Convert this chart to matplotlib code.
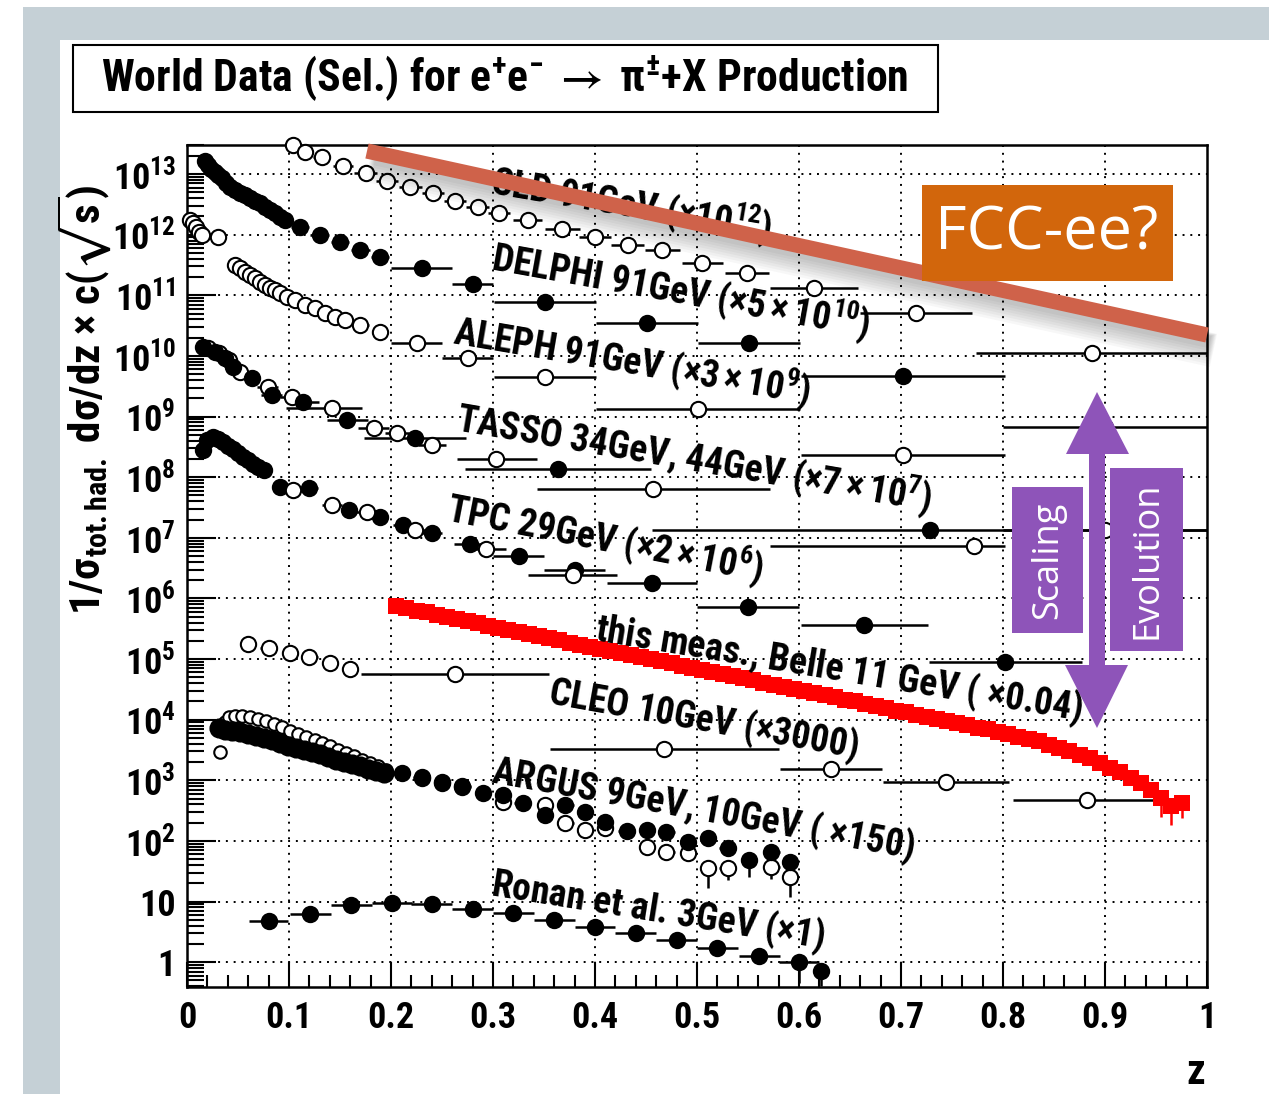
import matplotlib
matplotlib.use('Agg')
import matplotlib.pyplot as plt
import numpy as np
from matplotlib.patches import Rectangle, Polygon
from matplotlib.lines import Line2D
from matplotlib.ticker import FixedLocator, FuncFormatter, NullFormatter
import matplotlib.transforms as mtrans

FONT = 'Roboto Condensed'
plt.rcParams['font.family'] = [FONT, 'Liberation Sans', 'DejaVu Sans']
plt.rcParams['font.weight'] = 'bold'
plt.rcParams['mathtext.fontset'] = 'custom'
plt.rcParams['mathtext.rm'] = FONT + ':bold'
plt.rcParams['mathtext.it'] = FONT + ':bold:italic'
plt.rcParams['mathtext.bf'] = FONT + ':bold'
plt.rcParams['mathtext.default'] = 'rm'
plt.rcParams['mathtext.fallback'] = 'stixsans'

# ---------------- data (log10 of plotted, scaled values) ----------------
sld_z = [0.104,0.116,0.132,0.153,0.175,0.196,0.219,0.241,0.263,0.285,0.306,0.334,0.368,0.400,0.432,0.466,0.505,0.549,0.615,0.715,0.887]
sld_lg = [13.48,13.37,13.28,13.14,13.02,12.89,12.79,12.69,12.56,12.46,12.36,12.24,12.10,11.96,11.83,11.75,11.53,11.37,11.12,10.71,10.05]
sld_dz = [0.006,0.006,0.008,0.010,0.011,0.011,0.011,0.011,0.011,0.011,0.011,0.014,0.017,0.016,0.016,0.017,0.020,0.022,0.043,0.055,0.113]

delphi_z = [0.018,0.021,0.024,0.027,0.030,0.034,0.038,0.042,0.047,0.052,0.057,0.062,0.067,0.072,0.076,0.081,0.086,0.091,0.096,
            0.111,0.130,0.150,0.170,0.189,0.230,0.280,0.351,0.451,0.551,0.702,0.900]
delphi_lg = [13.21,13.15,13.09,13.04,12.98,12.93,12.86,12.79,12.74,12.69,12.66,12.60,12.56,12.52,12.46,12.41,12.35,12.30,12.24,
             12.13,12.00,11.88,11.75,11.63,11.45,11.19,10.89,10.54,10.21,9.67,8.83]
delphi_dz = [0.002]*19 + [0.009,0.009,0.009,0.009,0.009,0.030,0.020,0.050,0.050,0.050,0.100,0.100]

aleph_z = [0.003,0.006,0.009,0.012,0.015,0.030,0.047,0.052,0.057,0.062,0.067,0.072,0.076,0.081,0.086,0.091,0.098,0.106,0.116,0.125,
           0.135,0.145,0.155,0.170,0.189,0.225,0.275,0.351,0.501,0.702,0.900]
aleph_lg = [12.25,12.20,12.12,12.05,12.00,11.96,11.50,11.45,11.39,11.34,11.29,11.22,11.17,11.12,11.09,11.04,10.97,10.92,10.84,10.79,
            10.71,10.64,10.59,10.51,10.40,10.21,9.97,9.65,9.13,8.37,7.13]
aleph_dz = [0.002]*5 + [0.008] + [0.003]*10 + [0.005]*6 + [0.008]*3 + [0.025,0.025,0.050,0.100,0.100,0.100]

tasso_f_z = [0.016,0.027,0.037,0.045,0.064,0.083,0.114,0.157,0.224,0.364,0.728]
tasso_f_lg = [10.15,10.07,9.97,9.82,9.64,9.36,9.24,8.94,8.65,8.14,7.13]
tasso_f_dz = [0.003,0.003,0.004,0.005,0.008,0.010,0.015,0.020,0.050,0.091,0.272]

tasso_o_z = [0.021,0.031,0.041,0.052,0.079,0.103,0.142,0.183,0.206,0.240,0.303,0.457,0.772]
tasso_o_lg = [10.13,10.05,9.93,9.74,9.49,9.32,9.14,8.81,8.73,8.53,8.30,7.81,6.86]
tasso_o_dzl = [0.003,0.004,0.005,0.006,0.010,0.012,0.045,0.015,0.012,0.014,0.038,0.114,0.200]
tasso_o_dzh = [0.003,0.004,0.005,0.006,0.010,0.012,0.030,0.015,0.012,0.014,0.040,0.115,0.030]

tpc_f_z = [0.016,0.020,0.025,0.030,0.035,0.040,0.045,0.050,0.055,0.060,0.065,0.070,0.075,
           0.091,0.120,0.159,0.189,0.212,0.240,0.277,0.325,0.380,0.456,0.550,0.664,0.802]
tpc_f_lg = [8.45,8.62,8.66,8.63,8.58,8.52,8.46,8.40,8.34,8.28,8.22,8.17,8.12,
            7.84,7.82,7.46,7.34,7.21,7.08,6.90,6.70,6.47,6.25,5.86,5.56,4.95]
tpc_f_dz = [0.002]*13 + [0.006,0.008,0.008,0.008,0.010,0.010,0.015,0.025,0.030,0.044,0.050,0.062,0.075]

tpc_o_z = [0.104,0.142,0.176,0.224,0.293,0.378]
tpc_o_lg = [7.79,7.54,7.43,7.13,6.82,6.39]
tpc_o_dz = [0.006,0.010,0.010,0.010,0.020,0.044]

belle_z = [0.205,0.215,0.225,0.235,0.245,0.255,0.265,0.275,0.285,0.295,0.305,0.315,0.325,0.335,0.345,0.355,0.365,0.375,0.385,0.395,
           0.405,0.415,0.425,0.435,0.445,0.455,0.465,0.475,0.485,0.495,0.505,0.515,0.525,0.535,0.545,0.555,0.565,0.575,0.585,0.595,
           0.605,0.615,0.625,0.635,0.645,0.655,0.665,0.675,0.685,0.695,0.705,0.715,0.725,0.735,0.745,0.755,0.765,0.775,0.785,0.795,
           0.805,0.815,0.825,0.835,0.845,0.855,0.865,0.875,0.885,0.895,0.905,0.915,0.925,0.935,0.945,0.955,0.965,0.975]
belle_lg = [5.87,5.84,5.80,5.77,5.73,5.70,5.66,5.62,5.59,5.55,5.52,5.48,5.45,5.41,5.38,5.34,5.31,5.27,5.24,5.20,
            5.17,5.13,5.10,5.07,5.03,5.00,4.96,4.93,4.89,4.86,4.82,4.79,4.75,4.72,4.68,4.65,4.61,4.58,4.54,4.51,
            4.47,4.44,4.40,4.37,4.33,4.30,4.26,4.23,4.19,4.15,4.12,4.08,4.05,4.01,3.98,3.94,3.91,3.87,3.84,3.80,
            3.77,3.72,3.68,3.64,3.59,3.54,3.48,3.42,3.36,3.29,3.21,3.13,3.04,2.95,2.84,2.70,2.58,2.63]
belle_lowerr = [0.30, 0.32, 0.25]   # last three points, decades

cleo_z = [0.060,0.080,0.101,0.120,0.140,0.160,0.263,0.468,0.631,0.744,0.882]
cleo_lg = [5.25,5.18,5.10,5.03,4.93,4.83,4.75,3.52,3.19,2.97,2.67]
cleo_dz = [0.008,0.008,0.008,0.008,0.008,0.008,0.092,0.112,0.050,0.062,0.072]

argus_od_z = [0.032,0.037,0.041,0.047,0.054,0.062,0.070,0.077,0.085,0.093,0.101,0.109,0.117,0.125,0.132,0.140,0.148,0.156,0.164,0.172,0.179,0.187,0.195]
argus_od_lg = [3.47,3.96,4.04,4.06,4.06,4.04,4.01,3.98,3.93,3.88,3.81,3.76,3.71,3.66,3.61,3.56,3.50,3.45,3.40,3.33,3.28,3.23,3.17]
argus_fd_z = [0.031,0.037,0.044,0.052,0.060,0.068,0.075,0.083,0.091,0.099,0.107,0.115,0.123,0.130,0.138,0.146,0.154,0.162,0.170,0.177,0.185,0.193]
argus_fd_lg = [3.86,3.83,3.81,3.80,3.76,3.73,3.70,3.66,3.61,3.56,3.53,3.50,3.47,3.43,3.38,3.33,3.30,3.27,3.23,3.18,3.15,3.12]
argus_f_z = [0.211,0.230,0.250,0.270,0.290,0.310,0.329,0.351,0.371,0.390,0.410,0.431,0.451,0.470,0.491,0.511,0.530,0.551,0.573,0.591]
argus_f_lg = [3.12,3.04,2.95,2.89,2.79,2.76,2.62,2.43,2.59,2.48,2.31,2.16,2.18,2.15,1.98,2.05,1.88,1.68,1.82,1.65]
argus_f_lowerr = [0,0,0,0,0,0,0,0,0,0,0,0,0,0,0,0,0,0.28,0,0]
argus_o_z = [0.230,0.250,0.270,0.310,0.351,0.371,0.390,0.410,0.451,0.470,0.491,0.511,0.530,0.573,0.591]
argus_o_lg = [3.05,2.97,2.90,2.64,2.59,2.29,2.18,2.21,1.90,1.82,1.80,1.55,1.55,1.57,1.40]
argus_o_lowerr = [0,0,0,0,0,0,0,0,0,0,0,0.33,0.20,0.20,0.33]

ronan_z = [0.080,0.121,0.161,0.201,0.240,0.280,0.320,0.360,0.400,0.440,0.480,0.520,0.561,0.600,0.622]
ronan_lg = [0.68,0.79,0.94,0.97,0.96,0.87,0.81,0.69,0.58,0.48,0.36,0.23,0.10,0.00,-0.15]
ronan_dz = [0.019,0.020,0.020,0.020,0.020,0.020,0.020,0.020,0.020,0.020,0.020,0.020,0.020,0.020,0.000]
ronan_lowerr = [0,0,0,0,0,0,0,0,0,0,0,0,0,0.35,0.25]

labels = [
    (r'SLD 91GeV ($\times10^{12}$)', 490, 193, -9.6),
    (r'DELPHI 91GeV ($\times5\times10^{10}$)', 490, 269, -10.2),
    (r'ALEPH 91GeV ($\times3\times10^{9}$)', 452, 343, -9.7),
    (r'TASSO 34GeV, 44GeV ($\times7\times10^{7}$)', 455, 430, -9.7),
    (r'TPC 29GeV ($\times2\times10^{6}$)', 445, 521, -11.0),
    (r'this meas., Belle 11 GeV ( $\times$0.04)', 594, 640, -9.4),
    (r'CLEO 10GeV ($\times$3000)', 547, 703, -10.1),
    (r'ARGUS 9GeV, 10GeV ( $\times$150)', 490, 783, -10.3),
    (r'Ronan et al. 3GeV ($\times$1)', 490, 895, -9.1),
]

# ---------------- figure ----------------
W, H = 1269, 1101
fig = plt.figure(figsize=(W / 100, H / 100), dpi=100)
fig.patch.set_facecolor('white')

def fx(x):
    return x / W

def fy(y):
    return 1 - y / H

fig.patches.append(Rectangle((fx(23), fy(1094)), 1 - fx(23), fy(7) - fy(1094),
                             transform=fig.transFigure, facecolor='#c5d0d6', edgecolor='none', zorder=-20))
fig.patches.append(Rectangle((fx(60), fy(1094)), 1 - fx(60), fy(40) - fy(1094),
                             transform=fig.transFigure, facecolor='white', edgecolor='none', zorder=-19))
# title box
fig.patches.append(Rectangle((fx(73), fy(112)), fx(938) - fx(73), fy(45) - fy(112),
                             transform=fig.transFigure, facecolor='white', edgecolor='black', lw=1.5, zorder=-5))
fig.text(fx(505), fy(79), r'World Data (Sel.) for e$^{+}$e$^{-}$ $\rightarrow$ π$^{\pm}$+X Production',
         ha='center', va='center', fontsize=31.5, fontweight='bold')

ax = fig.add_axes([fx(187), fy(987), fx(1207) - fx(187), fy(145) - fy(987)])
ax.set_yscale('log')
ax.set_xlim(0, 1)
ax.set_ylim(10 ** -0.41, 10 ** 13.48)

ax.xaxis.set_major_locator(FixedLocator(np.arange(0, 1.01, 0.1)))
ax.xaxis.set_minor_locator(FixedLocator(np.arange(0, 1.001, 0.02)))
ax.xaxis.set_major_formatter(FuncFormatter(lambda v, p: '0' if abs(v) < 1e-9 else ('1' if abs(v - 1) < 1e-9 else '%.1f' % v)))
ax.yaxis.set_major_locator(FixedLocator([10.0 ** d for d in range(0, 14)]))
ax.yaxis.set_minor_locator(FixedLocator([k * 10.0 ** d for d in range(-1, 14) for k in range(2, 10)]))
ax.yaxis.set_minor_formatter(NullFormatter())

def yfmt(v, p):
    d = int(round(np.log10(v)))
    if d == 0:
        return '1'
    if d == 1:
        return '10'
    return r'$10^{%d}$' % d

ax.yaxis.set_major_formatter(FuncFormatter(yfmt))
ax.tick_params(axis='both', which='both', direction='in', top=False, right=False, width=1.5, labelsize=26)
ax.tick_params(axis='x', which='major', length=18, pad=9)
ax.tick_params(axis='x', which='minor', length=9)
ax.tick_params(axis='y', which='major', length=21, pad=8)
ax.tick_params(axis='y', which='minor', length=12)
for t in ax.get_xticklabels() + ax.get_yticklabels():
    t.set_fontweight('bold')
for s in ax.spines.values():
    s.set_linewidth(1.8)

for v in np.arange(0.1, 0.95, 0.1):
    ax.axvline(v, color='black', lw=1.4, ls=(0, (1, 3)), zorder=0.5)
for d in range(0, 14):
    ax.axhline(10.0 ** d, color='black', lw=1.4, ls=(0, (1, 3)), zorder=0.5)


def series(z, lg, dzl, dzh=None, filled=True, ms=11, lowerr=None, clip=True, zorder=3):
    z = np.array(z)
    y = 10.0 ** np.array(lg)
    dzl = np.array(dzl)
    dzh = dzl if dzh is None else np.array(dzh)
    yerr = None
    if lowerr is not None:
        lo = y - 10.0 ** (np.array(lg) - np.array(lowerr))
        yerr = [lo, np.zeros_like(lo)]
    eb = ax.errorbar(z, y, xerr=[dzl, dzh], yerr=yerr, fmt='o', ms=ms,
                     mfc='black' if filled else 'white', mec='black', mew=1.5,
                     ecolor='black', elinewidth=1.8, capsize=0, zorder=zorder)
    for art in eb.get_children():
        art.set_clip_on(clip)
    eb[0].set_clip_on(False)
    return eb

series(ronan_z, ronan_lg, ronan_dz, lowerr=ronan_lowerr)
series(argus_od_z, argus_od_lg, [0.002] * len(argus_od_z), filled=False, ms=9, zorder=2.9)
series(argus_fd_z, argus_fd_lg, [0.002] * len(argus_fd_z), ms=13, zorder=3)
series(argus_o_z, argus_o_lg, [0.008] * len(argus_o_z), filled=False, lowerr=argus_o_lowerr)
series(argus_f_z, argus_f_lg, [0.008] * len(argus_f_z), lowerr=argus_f_lowerr)
series(cleo_z, cleo_lg, cleo_dz, filled=False)
series(tpc_f_z, tpc_f_lg, tpc_f_dz)
series(tpc_o_z, tpc_o_lg, tpc_o_dz, filled=False)
series(tasso_o_z, tasso_o_lg, tasso_o_dzl, tasso_o_dzh, filled=False)
series(tasso_f_z, tasso_f_lg, tasso_f_dz)
series(aleph_z, aleph_lg, aleph_dz, filled=False)
series(delphi_z, delphi_lg, delphi_dz)
series(sld_z, sld_lg, sld_dz, filled=False)

# Belle band
by = 10.0 ** np.array(belle_lg)
ax.plot(belle_z, by, 's', color='red', ms=12, mew=0, zorder=5)
bz_last = np.array(belle_z[-3:])
by_last = by[-3:]
lo = by_last - 10.0 ** (np.array(belle_lg[-3:]) - np.array(belle_lowerr))
ax.errorbar(bz_last, by_last, yerr=[lo, np.zeros(3)], fmt='none', ecolor='red', elinewidth=1.8, capsize=0, zorder=5)

# labels
for txt, x, y, rot in labels:
    fig.text(fx(x), fy(y), txt, rotation=rot, rotation_mode='anchor', ha='left', va='baseline',
             fontsize=27, fontweight='bold', zorder=10)

# axis titles
fig.text(fx(84), fy(400), r'1/$\sigma_{\rm tot.had.}$ d$\sigma$/dz $\times$ c($\sqrt{\rm s}$)',
         rotation=90, ha='center', va='center', fontsize=31, fontweight='bold')
fig.text(fx(1196), fy(1073), 'z', ha='center', va='center', fontsize=30, fontweight='bold')

# FCC-ee line with soft shadow
x0, y0, x1, y1 = 367, 151, 1207, 335
for i in range(8):
    tr = mtrans.offset_copy(fig.transFigure, fig=fig, x=3 + 0.5 * i, y=-(7 + 1.2 * i), units='dots')
    fig.add_artist(Line2D([fx(x0), fx(x1)], [fy(y0), fy(y1)], transform=tr, lw=9 + 2.2 * i,
                          color='black', alpha=0.03, solid_capstyle='butt', zorder=19))
fig.add_artist(Line2D([fx(x0), fx(x1)], [fy(y0), fy(y1)], transform=fig.transFigure, lw=11,
                      color='#cf624a', solid_capstyle='butt', zorder=20))

fig.patches.append(Rectangle((fx(922), fy(281)), fx(1173) - fx(922), fy(185) - fy(281),
                             transform=fig.transFigure, facecolor='#d2660c', edgecolor='none', zorder=21))
fig.text(fx(1047), fy(233), 'FCC-ee?', ha='center', va='center', fontsize=44, color='white',
         family='Open Sans', fontweight='normal', zorder=22)

# purple double arrow and boxes
purple = '#8e54b9'
arrow_px = [(1097, 392), (1129, 454), (1105, 454), (1105, 665), (1128, 665), (1097, 728),
            (1065, 665), (1089, 665), (1089, 454), (1066, 454)]
fig.patches.append(Polygon([(fx(a), fy(b)) for a, b in arrow_px], closed=True, transform=fig.transFigure,
                           facecolor=purple, edgecolor='none', zorder=21))
fig.patches.append(Rectangle((fx(1012), fy(633)), fx(1083) - fx(1012), fy(487) - fy(633),
                             transform=fig.transFigure, facecolor=purple, edgecolor='none', zorder=21))
fig.patches.append(Rectangle((fx(1110), fy(651)), fx(1183) - fx(1110), fy(468) - fy(651),
                             transform=fig.transFigure, facecolor=purple, edgecolor='none', zorder=21))
fig.text(fx(1048), fy(560), 'Scaling', rotation=90, ha='center', va='center', fontsize=26, color='white',
         family='Open Sans', fontweight='normal', zorder=22)
fig.text(fx(1147), fy(560), 'Evolution', rotation=90, ha='center', va='center', fontsize=26, color='white',
         family='Open Sans', fontweight='normal', zorder=22)

fig.savefig('out.png', dpi=100)
